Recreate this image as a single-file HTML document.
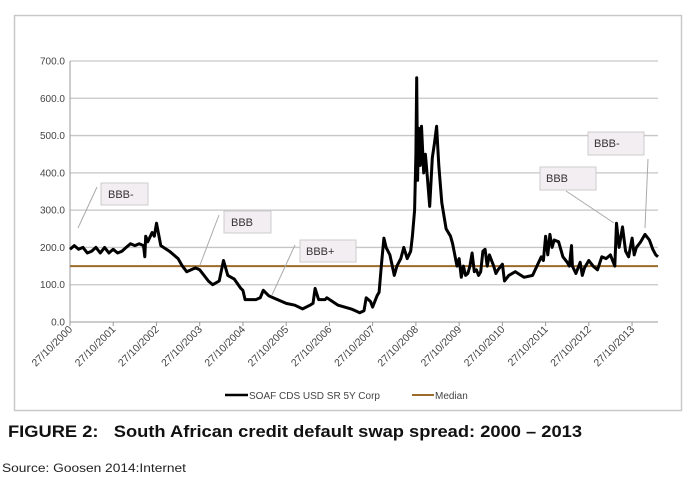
<!DOCTYPE html>
<html><head><meta charset="utf-8">
<style>
html,body{margin:0;padding:0;background:#fff;}
svg{display:block;font-family:"Liberation Sans",sans-serif;}
</style></head>
<body>
<svg id="c" width="684" height="483" viewBox="0 0 684 483">
<rect x="14.5" y="15.5" width="667" height="395" fill="#fff" stroke="#c8c8c8" stroke-width="1.5"/>
<g id="grid"></g>
<g id="yaxis"></g>
<g id="xaxis"></g>
<line id="median" stroke="#9a6b2a" stroke-width="2"/>
<path id="series" fill="none" stroke="#000" stroke-width="3" stroke-linejoin="round"/>
<g font-size="11" fill="#333">
 <line x1="97" y1="187" x2="78" y2="228" stroke="#aaa"/>
 <rect x="101" y="183" width="47" height="22" fill="#f3eef2" stroke="#ccc"/>
 <text x="108" y="198">BBB-</text>
 <line x1="219" y1="215" x2="200" y2="265" stroke="#aaa"/>
 <rect x="224" y="211" width="47" height="22" fill="#f3eef2" stroke="#ccc"/>
 <text x="231" y="226">BBB</text>
 <line x1="295" y1="245" x2="272" y2="295" stroke="#aaa"/>
 <rect x="300" y="240" width="56" height="22" fill="#f3eef2" stroke="#ccc"/>
 <text x="306" y="255">BBB+</text>
 <line x1="566" y1="191" x2="614" y2="223" stroke="#aaa"/>
 <rect x="540" y="167" width="56" height="23" fill="#f3eef2" stroke="#ccc"/>
 <text x="546" y="182">BBB</text>
 <line x1="648" y1="159" x2="645" y2="228" stroke="#aaa"/>
 <rect x="588" y="132" width="56" height="23" fill="#f3eef2" stroke="#ccc"/>
 <text x="594" y="147">BBB-</text>
</g>
<g font-size="10" fill="#444">
 <line x1="225" y1="395" x2="248" y2="395" stroke="#000" stroke-width="2.5"/>
 <text x="249" y="399">SOAF CDS USD SR 5Y Corp</text>
 <line x1="412" y1="395" x2="434" y2="395" stroke="#9a6b2a" stroke-width="2"/>
 <text x="435" y="399">Median</text>
</g>
<text x="8" y="437" font-size="16.5" font-weight="bold" fill="#111" textLength="574" lengthAdjust="spacingAndGlyphs">FIGURE 2:&#160;&#160; South African credit default swap spread: 2000 – 2013</text>
<text x="2" y="472" font-size="12" fill="#222" textLength="184" lengthAdjust="spacingAndGlyphs">Source: Goosen 2014:Internet</text>
</svg>
<script>
const yTicks=[0,100,200,300,400,500,600,700];
const xLabels=["27/10/2000","27/10/2001","27/10/2002","27/10/2003","27/10/2004","27/10/2005","27/10/2006","27/10/2007","27/10/2008","27/10/2009","27/10/2010","27/10/2011","27/10/2012","27/10/2013"];
const medianValue=150;
const times=[0,0.1,0.2,0.3,0.4,0.5,0.6,0.7,0.8,0.9,1.0,1.1,1.2,1.3,1.4,1.5,1.6,1.7,1.73,1.75,1.8,1.9,1.95,2.0,2.1,2.3,2.5,2.6,2.7,2.9,3.0,3.2,3.3,3.45,3.55,3.65,3.8,3.95,4.0,4.05,4.3,4.4,4.47,4.6,4.8,5.0,5.2,5.38,5.55,5.62,5.67,5.75,5.9,5.94,6.2,6.5,6.6,6.7,6.8,6.85,6.95,7.0,7.1,7.15,7.2,7.26,7.31,7.4,7.5,7.56,7.65,7.72,7.8,7.88,7.92,7.97,8.0,8.02,8.04,8.06,8.1,8.13,8.18,8.22,8.27,8.32,8.38,8.43,8.48,8.53,8.6,8.7,8.8,8.85,8.9,8.95,9.0,9.05,9.1,9.15,9.2,9.25,9.3,9.35,9.4,9.45,9.5,9.55,9.6,9.65,9.7,9.8,9.85,9.9,10.0,10.05,10.15,10.3,10.5,10.7,10.8,10.9,10.95,11.0,11.05,11.1,11.15,11.2,11.3,11.4,11.5,11.55,11.6,11.62,11.7,11.8,11.85,11.9,12.0,12.1,12.2,12.3,12.4,12.5,12.6,12.64,12.7,12.78,12.85,12.92,13.0,13.05,13.1,13.2,13.3,13.4,13.48,13.55,13.6];
const values=[195,205,195,200,185,190,200,185,200,185,195,185,190,200,210,205,210,205,175,230,215,240,230,265,205,190,170,150,135,145,140,110,100,110,165,125,115,90,85,60,60,65,85,70,60,50,45,35,45,50,90,60,60,65,45,35,30,25,30,65,55,40,70,80,150,225,200,180,125,150,170,200,170,190,230,300,450,655,380,520,420,525,400,450,380,310,440,480,525,420,320,250,230,210,180,150,170,120,150,125,130,150,185,135,140,125,135,190,195,150,180,150,130,140,155,110,125,135,120,125,150,175,165,230,180,235,200,220,215,175,160,150,205,150,130,160,125,145,165,150,140,175,170,180,150,265,200,255,190,175,225,180,200,215,235,220,195,180,175];
const X0=70,X1=658,Y0=322,Y1=61,TMAX=13.6;
const xScale=t=>X0+(t/TMAX)*(X1-X0);
const yScale=v=>Y0-(v/700)*(Y0-Y1);
const NS="http://www.w3.org/2000/svg";
const grid=document.getElementById('grid'),ya=document.getElementById('yaxis'),xa=document.getElementById('xaxis');
yTicks.forEach(v=>{
  const y=yScale(v);
  if(v>0){const l=document.createElementNS(NS,'line');
  
  
  l.setAttribute('x1',X0);l.setAttribute('x2',X1);l.setAttribute('y1',y);l.setAttribute('y2',y);
  l.setAttribute('stroke','#c6c6c6');l.setAttribute('stroke-width','1.3');grid.appendChild(l);}
  const t=document.createElementNS(NS,'text');
  
  
  t.setAttribute('x',X0-5);t.setAttribute('y',y+3.5);t.setAttribute('text-anchor','end');
  t.setAttribute('font-size','10');t.setAttribute('fill','#444');t.textContent=v.toFixed(1);ya.appendChild(t);
});
const ax=document.createElementNS(NS,'path');


ax.setAttribute('d',`M${X0},${Y1}V${Y0}H${X1}`);ax.setAttribute('stroke','#999');ax.setAttribute('fill','none');xa.appendChild(ax);
xLabels.forEach((s,i)=>{
  const x=xScale(i);
  const tk=document.createElementNS(NS,'line');
  
  
  tk.setAttribute('x1',x);tk.setAttribute('x2',x);tk.setAttribute('y1',Y0);tk.setAttribute('y2',Y0+4);tk.setAttribute('stroke','#999');xa.appendChild(tk);
  const t=document.createElementNS(NS,'text');
  
  
  t.setAttribute('transform',`translate(${x+3},${Y0+8}) rotate(-45)`);t.setAttribute('text-anchor','end');
  t.setAttribute('font-size','10.5');t.setAttribute('fill','#444');t.textContent=s;xa.appendChild(t);
});
const m=document.getElementById('median');
m.setAttribute('x1',X0);m.setAttribute('x2',X1);m.setAttribute('y1',yScale(medianValue));m.setAttribute('y2',yScale(medianValue));
document.getElementById('series').setAttribute('d',times.map((t,i)=>(i?'L':'M')+xScale(t).toFixed(1)+','+yScale(values[i]).toFixed(1)).join(''));
</script>
</body></html>
